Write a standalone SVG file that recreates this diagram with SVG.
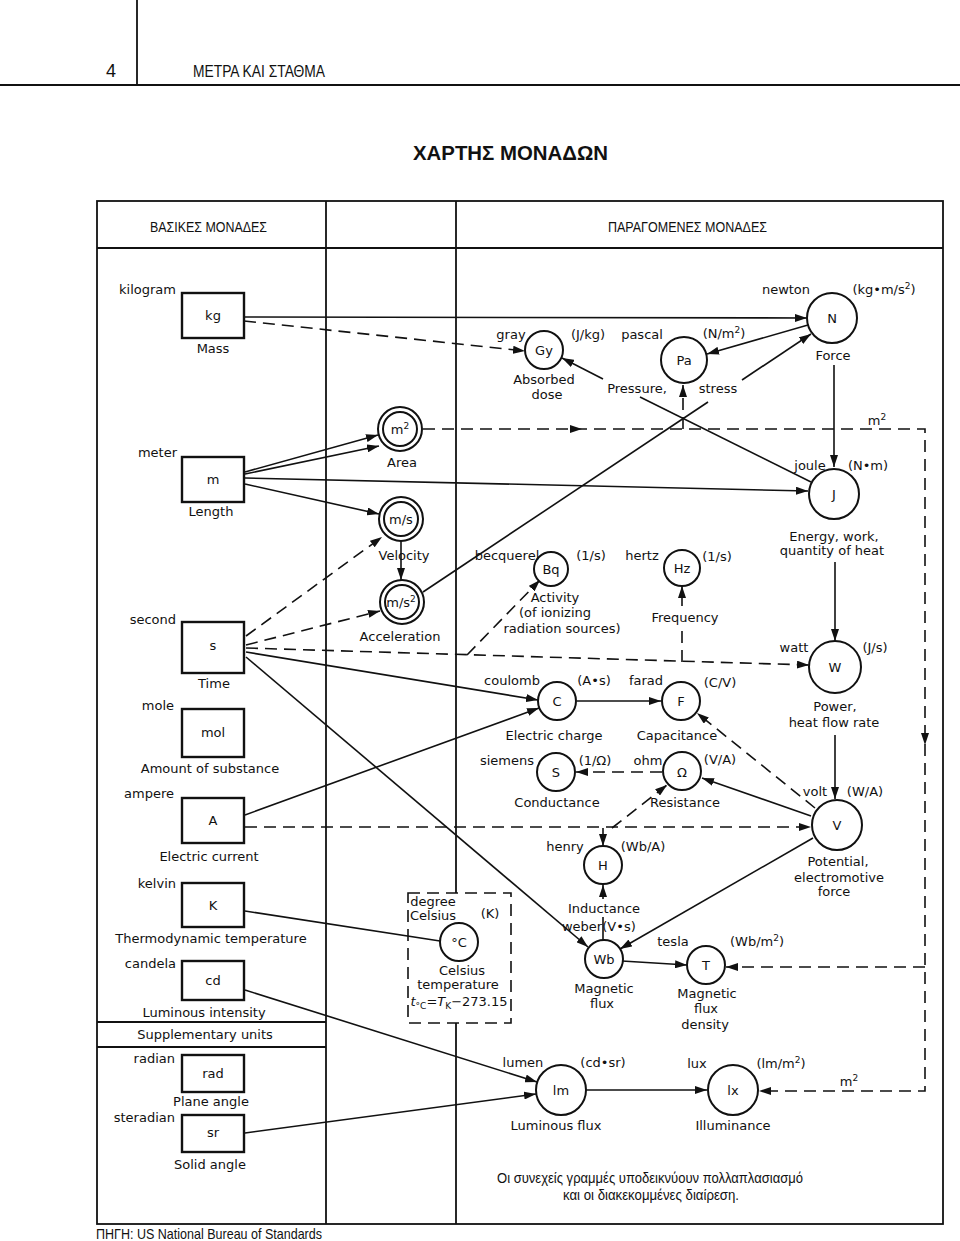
<svg xmlns="http://www.w3.org/2000/svg" width="960" height="1241" viewBox="0 0 960 1241">
<style>
.t{font-family:"DejaVu Sans",sans-serif;font-size:13px;fill:#111}
.c{text-anchor:middle}
.e{text-anchor:end}
.g{font-family:"Liberation Sans Narrow","Liberation Sans",sans-serif;fill:#111}
.box{fill:#fff;stroke:#111;stroke-width:2.4}
.cir{fill:#fff;stroke:#111;stroke-width:2}
.ln{fill:none;stroke:#111;stroke-width:1.6}
.ds{stroke-dasharray:12 7}
.fr{fill:none;stroke:#111;stroke-width:1.8}
.ah{fill:#111}
</style>
<defs>
<marker id="ah" viewBox="0 0 12 8" refX="12" refY="4" markerWidth="12" markerHeight="8" markerUnits="userSpaceOnUse" orient="auto"><path d="M0,0 L12,4 L0,8 z" fill="#111"/></marker>
</defs>
<rect width="960" height="1241" fill="#fff"/>

<g id="page-header">
<line x1="137" y1="0" x2="137" y2="85" class="fr"/>
<line x1="0" y1="85" x2="960" y2="85" class="fr"/>
<text x="111" y="77" class="g" font-size="18" text-anchor="middle">4</text>
<text x="193" y="77" class="g" font-size="16" textLength="132" lengthAdjust="spacingAndGlyphs">ΜΕΤΡΑ ΚΑΙ ΣΤΑΘΜΑ</text>
<text x="413" y="160" class="g" font-size="21" font-weight="bold" textLength="195" lengthAdjust="spacingAndGlyphs">ΧΑΡΤΗΣ ΜΟΝΑΔΩΝ</text>
</g>

<g id="frame">
<rect x="97" y="201" width="846" height="1023" class="fr"/>
<line x1="97" y1="248" x2="943" y2="248" class="fr"/>
<line x1="326" y1="201" x2="326" y2="1224" class="fr"/>
<line x1="456" y1="201" x2="456" y2="893" class="fr"/>
<line x1="456" y1="1023" x2="456" y2="1224" class="fr"/>
<line x1="97" y1="1022" x2="326" y2="1022" class="fr"/>
<line x1="97" y1="1047" x2="326" y2="1047" class="fr"/>
<text x="150" y="232" class="g" font-size="14" textLength="117" lengthAdjust="spacingAndGlyphs">ΒΑΣΙΚΕΣ ΜΟΝΑΔΕΣ</text>
<text x="608" y="232" class="g" font-size="14" textLength="159" lengthAdjust="spacingAndGlyphs">ΠΑΡΑΓΟΜΕΝΕΣ ΜΟΝΑΔΕΣ</text>
<text x="205" y="1039" class="t c">Supplementary units</text>
</g>

<g id="connectors">
<path d="M244,317 L807,318" class="ln" marker-end="url(#ah)"/>
<path d="M808,325 L707,354" class="ln" marker-end="url(#ah)"/>
<path d="M423,592 L708,402" class="ln"/>
<path d="M742,380 L811,334" class="ln" marker-end="url(#ah)"/>
<path d="M811,482 L640,397" class="ln"/>
<path d="M603,379 L562,358" class="ln" marker-end="url(#ah)"/>
<path d="M834,365 V467" class="ln" marker-end="url(#ah)"/>
<path d="M835,562 V641" class="ln" marker-end="url(#ah)"/>
<path d="M835,735 V799" class="ln" marker-end="url(#ah)"/>
<path d="M245,472 L378,435" class="ln" marker-end="url(#ah)"/>
<path d="M245,474 L379,446" class="ln" marker-end="url(#ah)"/>
<path d="M245,478 L808,491" class="ln" marker-end="url(#ah)"/>
<path d="M245,484 L379,514" class="ln" marker-end="url(#ah)"/>
<path d="M246,652 L538,700" class="ln" marker-end="url(#ah)"/>
<path d="M246,657 L588,947" class="ln" marker-end="url(#ah)"/>
<path d="M245,815 L539,708" class="ln" marker-end="url(#ah)"/>
<path d="M577,701 L661,701" class="ln" marker-end="url(#ah)"/>
<path d="M811,816 L702,778" class="ln" marker-end="url(#ah)"/>
<path d="M813,838 L620,949" class="ln" marker-end="url(#ah)"/>
<path d="M603,940 V917" class="ln"/>
<path d="M603,899 V885" class="ln" marker-end="url(#ah)"/>
<path d="M622,961 L687,965" class="ln" marker-end="url(#ah)"/>
<path d="M245,911 L440,941" class="ln"/>
<path d="M245,990 L537,1082" class="ln" marker-end="url(#ah)"/>
<path d="M245,1133 L536,1094" class="ln" marker-end="url(#ah)"/>
<path d="M586,1090 L707,1090" class="ln" marker-end="url(#ah)"/>
<path d="M401,541 V580" class="ln" marker-end="url(#ah)"/>

<path d="M244,321 L525,351" class="ln ds" marker-end="url(#ah)"/>
<path d="M246,636 L382,537" class="ln ds" marker-end="url(#ah)"/>
<path d="M246,645 L380,611" class="ln ds" marker-end="url(#ah)"/>
<path d="M246,648 L809,665" class="ln ds" marker-end="url(#ah)"/>
<path d="M467,655 L540,580" class="ln ds" marker-end="url(#ah)"/>
<path d="M682,662 V630" class="ln ds"/>
<path d="M682,606 V586" class="ln" marker-end="url(#ah)"/>
<path d="M245,827 L811,827" class="ln ds" marker-end="url(#ah)"/>
<path d="M612,828 L667,785" class="ln ds" marker-end="url(#ah)"/>
<path d="M603,828 V846" class="ln" marker-end="url(#ah)"/>
<path d="M815,808 L697,713" class="ln ds" marker-end="url(#ah)"/>
<path d="M662,772 L576,772" class="ln ds" marker-end="url(#ah)"/>
<path d="M423,429 H925 V1091 H759" class="ln ds" marker-end="url(#ah)"/>
<path d="M683,429 V385" class="ln ds" marker-end="url(#ah)"/>
<path d="M925,967 H726" class="ln ds" marker-end="url(#ah)"/>
<path d="M570,425 L582,429 L570,433 z" class="ah"/>
<path d="M921,733 L925,745 L929,733 z" class="ah"/>
<text x="877" y="425" class="t c">m<tspan dy="-5" font-size="9">2</tspan></text>
<text x="849" y="1086" class="t c">m<tspan dy="-5" font-size="9">2</tspan></text>
</g>

<g id="kg"><rect x="182" y="293" width="62" height="45" class="box"/><text x="213" y="320" class="t c">kg</text><text x="176" y="294" class="t e">kilogram</text><text x="213" y="353" class="t c">Mass</text></g>
<g id="m"><rect x="182" y="457" width="62" height="45" class="box"/><text x="213" y="484" class="t c">m</text><text x="177" y="457" class="t e">meter</text><text x="211" y="516" class="t c">Length</text></g>
<g id="s"><rect x="182" y="622" width="62" height="51" class="box"/><text x="213" y="650" class="t c">s</text><text x="176" y="624" class="t e">second</text><text x="214" y="688" class="t c">Time</text></g>
<g id="mol"><rect x="182" y="709" width="62" height="48" class="box"/><text x="213" y="737" class="t c">mol</text><text x="174" y="710" class="t e">mole</text><text x="210" y="773" class="t c">Amount of substance</text></g>
<g id="A"><rect x="182" y="798" width="62" height="45" class="box"/><text x="213" y="825" class="t c">A</text><text x="174" y="798" class="t e">ampere</text><text x="209" y="861" class="t c">Electric current</text></g>
<g id="K"><rect x="182" y="883" width="62" height="44" class="box"/><text x="213" y="910" class="t c">K</text><text x="176" y="888" class="t e">kelvin</text><text x="211" y="943" class="t c">Thermodynamic temperature</text></g>
<g id="cd"><rect x="182" y="961" width="62" height="39" class="box"/><text x="213" y="985" class="t c">cd</text><text x="176" y="968" class="t e">candela</text><text x="204" y="1017" class="t c">Luminous intensity</text></g>
<g id="rad"><rect x="182" y="1055" width="62" height="37" class="box"/><text x="213" y="1078" class="t c">rad</text><text x="175" y="1063" class="t e">radian</text><text x="211" y="1106" class="t c">Plane angle</text></g>
<g id="sr"><rect x="182" y="1115" width="62" height="37" class="box"/><text x="213" y="1137" class="t c">sr</text><text x="175" y="1122" class="t e">steradian</text><text x="210" y="1169" class="t c">Solid angle</text></g>

<g id="m2"><circle cx="400" cy="429" r="22" class="cir"/><circle cx="400" cy="429" r="17" class="cir"/><text x="400" y="434" class="t c">m<tspan dy="-5" font-size="9">2</tspan></text><text x="402" y="467" class="t c">Area</text></g>
<g id="ms"><circle cx="401" cy="519" r="22" class="cir"/><circle cx="401" cy="519" r="17" class="cir"/><text x="401" y="524" class="t c" font-size="12">m/s</text><text x="404" y="560" class="t c">Velocity</text></g>
<g id="ms2"><circle cx="402" cy="602" r="22" class="cir"/><circle cx="402" cy="602" r="17" class="cir"/><text x="401" y="607" class="t c" font-size="11.5">m/s<tspan dy="-5" font-size="9">2</tspan></text><text x="400" y="641" class="t c">Acceleration</text></g>

<g id="N"><circle cx="832" cy="318" r="25" class="cir"/><text x="832" y="323" class="t c">N</text><text x="786" y="294" class="t c">newton</text><text x="884" y="294" class="t c">(kg•m/s<tspan dy="-5" font-size="9">2</tspan><tspan dy="5">)</tspan></text><text x="833" y="360" class="t c">Force</text></g>
<g id="Pa"><circle cx="684" cy="360" r="23" class="cir"/><text x="684" y="365" class="t c">Pa</text><text x="642" y="339" class="t c">pascal</text><text x="724" y="338" class="t c">(N/m<tspan dy="-5" font-size="9">2</tspan><tspan dy="5">)</tspan></text><text x="637" y="393" class="t c">Pressure,</text><text x="718" y="393" class="t c">stress</text></g>
<g id="Gy"><circle cx="544" cy="350" r="19" class="cir"/><text x="544" y="355" class="t c">Gy</text><text x="511" y="339" class="t c">gray</text><text x="588" y="339" class="t c">(J/kg)</text><text x="544" y="384" class="t c">Absorbed</text><text x="547" y="399" class="t c">dose</text></g>
<g id="J"><circle cx="834" cy="494" r="25" class="cir"/><text x="834" y="499" class="t c">J</text><text x="810" y="470" class="t c">joule</text><text x="868" y="470" class="t c">(N•m)</text><text x="834" y="541" class="t c">Energy, work,</text><text x="832" y="555" class="t c">quantity of heat</text></g>
<g id="Bq"><circle cx="551" cy="569" r="17" class="cir"/><text x="551" y="574" class="t c">Bq</text><text x="507" y="560" class="t c" font-size="12">becquerel</text><text x="591" y="560" class="t c">(1/s)</text><text x="555" y="602" class="t c">Activity</text><text x="555" y="617" class="t c">(of ionizing</text><text x="562" y="633" class="t c">radiation sources)</text></g>
<g id="Hz"><circle cx="682" cy="568" r="18" class="cir"/><text x="682" y="573" class="t c">Hz</text><text x="642" y="560" class="t c">hertz</text><text x="717" y="561" class="t c">(1/s)</text><text x="685" y="622" class="t c">Frequency</text></g>
<g id="W"><circle cx="835" cy="667" r="26" class="cir"/><text x="835" y="672" class="t c">W</text><text x="794" y="652" class="t c">watt</text><text x="875" y="652" class="t c">(J/s)</text><text x="835" y="711" class="t c">Power,</text><text x="834" y="727" class="t c">heat flow rate</text></g>
<g id="C"><circle cx="557" cy="701" r="19" class="cir"/><text x="557" y="706" class="t c">C</text><text x="512" y="685" class="t c">coulomb</text><text x="594" y="685" class="t c">(A•s)</text><text x="554" y="740" class="t c">Electric charge</text></g>
<g id="F"><circle cx="681" cy="701" r="19" class="cir"/><text x="681" y="706" class="t c">F</text><text x="646" y="685" class="t c">farad</text><text x="720" y="687" class="t c">(C/V)</text><text x="677" y="740" class="t c">Capacitance</text></g>
<g id="S"><circle cx="556" cy="772" r="19" class="cir"/><text x="556" y="777" class="t c">S</text><text x="507" y="765" class="t c">siemens</text><text x="595" y="765" class="t c">(1/Ω)</text><text x="557" y="807" class="t c">Conductance</text></g>
<g id="ohm"><circle cx="682" cy="771" r="19" class="cir"/><text x="682" y="777" class="t c" font-size="15">Ω</text><text x="648" y="765" class="t c">ohm</text><text x="720" y="764" class="t c">(V/A)</text><text x="685" y="807" class="t c">Resistance</text></g>
<g id="V"><circle cx="837" cy="825" r="25" class="cir"/><text x="837" y="830" class="t c">V</text><text x="815" y="796" class="t c">volt</text><text x="865" y="796" class="t c">(W/A)</text><text x="838" y="866" class="t c">Potential,</text><text x="839" y="882" class="t c">electromotive</text><text x="834" y="896" class="t c">force</text></g>
<g id="H"><circle cx="603" cy="865" r="19" class="cir"/><text x="603" y="870" class="t c">H</text><text x="565" y="851" class="t c">henry</text><text x="643" y="851" class="t c">(Wb/A)</text><text x="604" y="913" class="t c">Inductance</text></g>
<g id="Wb"><circle cx="604" cy="959" r="19" class="cir"/><text x="604" y="964" class="t c">Wb</text><text x="582" y="931" class="t c" font-size="12">weber</text><text x="619" y="931" class="t c" font-size="12">(V•s)</text><text x="604" y="993" class="t c">Magnetic</text><text x="602" y="1008" class="t c">flux</text></g>
<g id="T"><circle cx="706" cy="965" r="19" class="cir"/><text x="706" y="970" class="t c">T</text><text x="673" y="946" class="t c">tesla</text><text x="757" y="946" class="t c">(Wb/m<tspan dy="-5" font-size="9">2</tspan><tspan dy="5">)</tspan></text><text x="707" y="998" class="t c">Magnetic</text><text x="706" y="1013" class="t c">flux</text><text x="705" y="1029" class="t c">density</text></g>
<g id="degC"><rect x="408" y="893" width="103" height="130" class="ln ds"/><circle cx="459" cy="942" r="19" class="cir"/><text x="459" y="947" class="t c">°C</text><text x="433" y="906" class="t c" font-size="12">degree</text><text x="433" y="920" class="t c" font-size="12">Celsius</text><text x="490" y="918" class="t c">(K)</text><text x="462" y="975" class="t c">Celsius</text><text x="458" y="989" class="t c">temperature</text><text x="459" y="1006" class="t c"><tspan font-style="italic">t</tspan><tspan font-size="9" dy="3">°C</tspan><tspan dy="-3">=</tspan><tspan font-style="italic">T</tspan><tspan font-size="9" dy="3">K</tspan><tspan dy="-3">−273.15</tspan></text></g>
<g id="lm"><circle cx="561" cy="1090" r="25" class="cir"/><text x="561" y="1095" class="t c">lm</text><text x="523" y="1067" class="t c">lumen</text><text x="603" y="1067" class="t c">(cd•sr)</text><text x="556" y="1130" class="t c">Luminous flux</text></g>
<g id="lx"><circle cx="733" cy="1090" r="25" class="cir"/><text x="733" y="1095" class="t c">lx</text><text x="697" y="1068" class="t c">lux</text><text x="781" y="1068" class="t c">(lm/m<tspan dy="-5" font-size="9">2</tspan><tspan dy="5">)</tspan></text><text x="733" y="1130" class="t c">Illuminance</text></g>

<g id="notes">
<text x="497" y="1183" class="g" font-size="15" textLength="306" lengthAdjust="spacingAndGlyphs">Οι συνεχείς γραμμές υποδεικνύουν πολλαπλασιασμό</text>
<text x="563" y="1200" class="g" font-size="15" textLength="176" lengthAdjust="spacingAndGlyphs">και οι διακεκομμένες διαίρεση.</text>
<text x="96" y="1239" class="g" font-size="15" textLength="226" lengthAdjust="spacingAndGlyphs">ΠΗΓΗ: US National Bureau of Standards</text>
</g>
</svg>
